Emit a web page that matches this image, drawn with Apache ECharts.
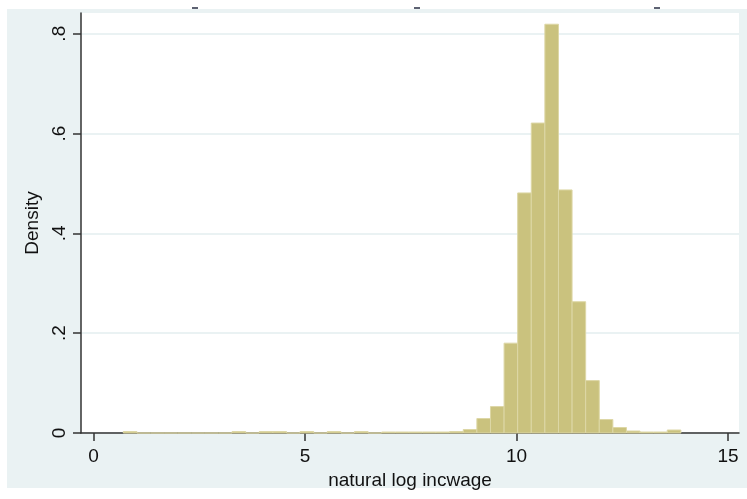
<!DOCTYPE html>
<html>
<head>
<meta charset="utf-8">
<script src="https://cdn.jsdelivr.net/npm/echarts@6/dist/echarts.min.js"></script>
<style>
  html, body { margin: 0; padding: 0; background: #ffffff; }
  #chart { width: 747px; height: 499px; }
</style>
</head>
<body>
<div id="chart"></div>
<script>
// ---- data ----
const binStart = 0.704;      // lower edge of first bin
const binWidth = 0.3215;     // bin width
const density = [
  0.003, 0, 0, 0, 0, 0, 0, 0, 0.003, 0,
  0.003, 0.003, 0, 0.003, 0, 0.003, 0, 0.003, 0, 0.002,
  0.002, 0.002, 0.002, 0.002, 0.003, 0.007, 0.029, 0.053, 0.180, 0.481,
  0.621, 0.819, 0.487, 0.263, 0.105, 0.027, 0.011, 0.004, 0.002, 0.002,
  0.006
];
const xTicks = [0, 5, 10, 15];
const yTicks = [0, 0.2, 0.4, 0.6, 0.8];
const xTitle = 'natural log incwage';
const yTitle = 'Density';

const bins = density.map((d, k) => [binStart + k * binWidth, binStart + (k + 1) * binWidth, d]);

const FONT = '"Liberation Sans", Arial, sans-serif';
const chart = echarts.init(document.getElementById('chart'), null, { renderer: 'canvas' });

chart.setOption({
  animation: false,
  backgroundColor: '#ffffff',
  textStyle: { fontFamily: FONT },
  graphic: [
    { type: 'rect', z: -10, shape: { x: 7, y: 9, width: 740, height: 479 }, style: { fill: '#eaf2f3' }, silent: true },
    { type: 'rect', z: -9, shape: { x: 192, y: 7, width: 6, height: 2 }, style: { fill: '#5d6272' }, silent: true },
    { type: 'rect', z: -9, shape: { x: 414, y: 7, width: 6, height: 2 }, style: { fill: '#5d6272' }, silent: true },
    { type: 'rect', z: -9, shape: { x: 654, y: 7, width: 6, height: 2 }, style: { fill: '#5d6272' }, silent: true }
  ],
  grid: {
    left: 81, right: 8, top: 13, bottom: 66,
    containLabel: false,
    outerBoundsMode: 'none',
    show: true, backgroundColor: '#ffffff', borderWidth: 0
  },
  xAxis: {
    type: 'value',
    min: -0.296, max: 15.26,
    name: xTitle,
    nameLocation: 'middle',
    nameGap: 30,
    nameTextStyle: { fontSize: 19, color: '#111', fontFamily: FONT },
    axisLine: { show: true, onZero: false, lineStyle: { color: '#333', width: 1.5 } },
    axisTick: { show: true, length: 8, inside: false, customValues: xTicks, lineStyle: { color: '#333', width: 1.5 } },
    axisLabel: { customValues: xTicks, fontSize: 19, color: '#111', margin: 14, fontFamily: FONT,
      formatter: v => String(v) },
    splitLine: { show: false }
  },
  yAxis: {
    type: 'value',
    min: 0, max: 0.8415,
    name: yTitle,
    nameLocation: 'middle',
    nameRotate: 90,
    nameGap: 30,
    nameTextStyle: { fontSize: 19, color: '#111', fontFamily: FONT },
    axisLine: { show: true, onZero: false, lineStyle: { color: '#333', width: 1.5 } },
    axisTick: { show: true, length: 8, customValues: yTicks, lineStyle: { color: '#333', width: 1.5 } },
    axisLabel: { customValues: yTicks, rotate: 90, fontSize: 19, color: '#111', margin: 12, fontFamily: FONT,
      formatter: v => v === 0 ? '0' : String(Math.round(v * 10) / 10).replace(/^0/, '') },
    splitLine: { show: true, lineStyle: { color: '#eaf2f3', width: 2 } }
  },
  series: [{
    type: 'custom',
    data: bins,
    encode: { x: [0, 1], y: 2 },
    renderItem: function (params, api) {
      const lo = api.value(0), hi = api.value(1), h = api.value(2);
      const p0 = api.coord([lo, h]);
      const p1 = api.coord([hi, 0]);
      return {
        type: 'rect',
        shape: { x: p0[0], y: p0[1], width: p1[0] - p0[0], height: p1[1] - p0[1] },
        style: { fill: '#cac27e', stroke: '#ddd7a6', lineWidth: 1 }
      };
    }
  }]
});
</script>
</body>
</html>
